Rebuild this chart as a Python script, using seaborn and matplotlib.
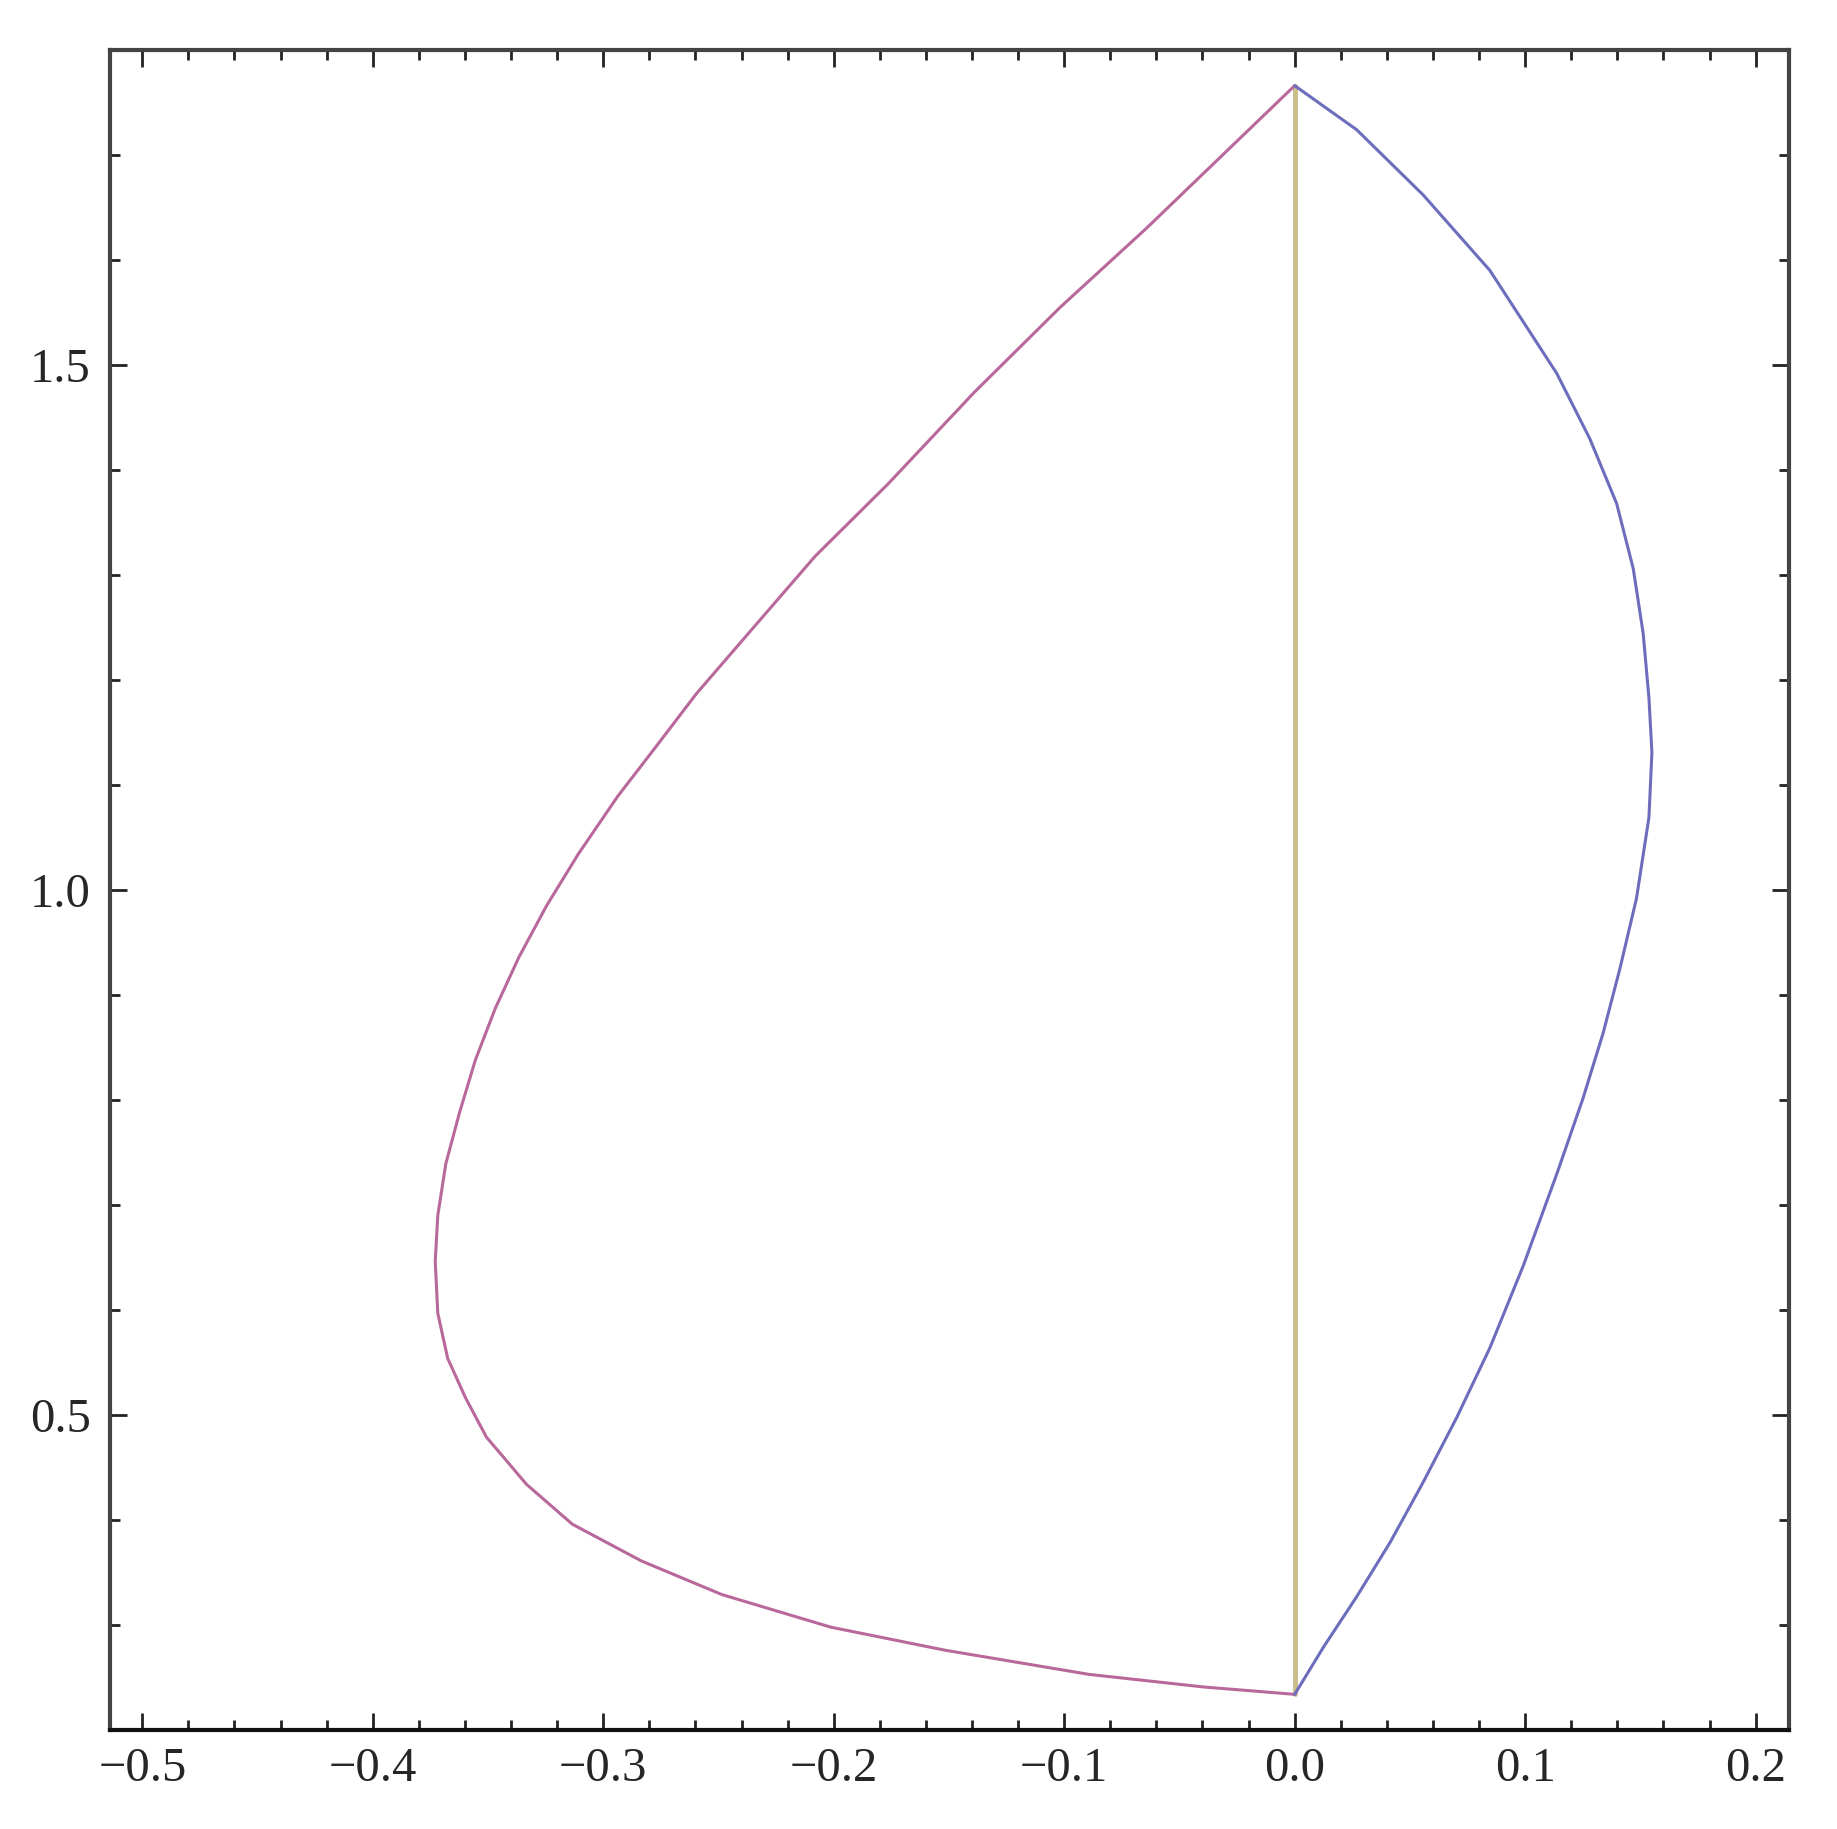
import numpy as np
import pandas as pd
import matplotlib
matplotlib.use("Agg")
import matplotlib.pyplot as plt
from matplotlib.ticker import MultipleLocator
import seaborn as sns

# values
left_x = [0.0, -0.0644, -0.1017, -0.139, -0.1763, -0.208, -0.2337, -0.2595, -0.2766,
          -0.2938, -0.3109, -0.3246, -0.3366, -0.3469, -0.3555, -0.3623, -0.3683,
          -0.3718, -0.3729, -0.3718, -0.3675, -0.3598, -0.3507, -0.3333, -0.3134,
          -0.2834, -0.2485, -0.2013, -0.1516, -0.0892, -0.0394, 0.0]
left_y = [1.766, 1.630, 1.555, 1.474, 1.387, 1.318, 1.2528, 1.1872, 1.138,
          1.089, 1.034, 0.985, 0.936, 0.887, 0.838, 0.7885, 0.7394,
          0.690, 0.6465, 0.597, 0.554, 0.5166, 0.479, 0.434, 0.396,
          0.361, 0.329, 0.298, 0.276, 0.253, 0.241, 0.234]

right_x = [0.0, 0.0269, 0.0557, 0.0847, 0.1137, 0.128, 0.1397, 0.1469, 0.1512, 0.1537,
           0.155, 0.1537, 0.1483, 0.1411, 0.1338, 0.1251, 0.1137, 0.0991, 0.0847,
           0.0703, 0.0557, 0.0414, 0.0269, 0.0125, 0.0]
right_y = [1.766, 1.724, 1.662, 1.590, 1.492, 1.430, 1.368, 1.306, 1.2445, 1.183,
           1.131, 1.069, 0.992, 0.925, 0.8635, 0.8016, 0.7294, 0.6417, 0.564,
           0.4976, 0.4358, 0.3787, 0.327, 0.2790, 0.234]

axis_x = [0.0, 0.0]
axis_y = [0.234, 1.766]

sns.set_theme(style="white")
plt.rcParams['font.family'] = ['Liberation Serif', 'DejaVu Serif']

left = pd.DataFrame({"x": left_x, "y": left_y})
right = pd.DataFrame({"x": right_x, "y": right_y})
mid = pd.DataFrame({"x": axis_x, "y": axis_y})

fig = plt.figure(figsize=(18.37, 18.29), dpi=100)
ax = fig.add_axes([0.0599, 0.0541, 0.9140, 0.9186])

sns.lineplot(data=mid, x="x", y="y", sort=False, estimator=None, ax=ax,
             color="#c9be8c", linewidth=3.6)
sns.lineplot(data=left, x="x", y="y", sort=False, estimator=None, ax=ax,
             color="#b8689a", linewidth=2.2)
sns.lineplot(data=right, x="x", y="y", sort=False, estimator=None, ax=ax,
             color="#6d6dbd", linewidth=2.2)

ax.set_xlim(-0.514, 0.2145)
ax.set_ylim(0.2, 1.8)
ax.set_xlabel("")
ax.set_ylabel("")

ax.xaxis.set_major_locator(MultipleLocator(0.1))
ax.xaxis.set_minor_locator(MultipleLocator(0.02))
ax.yaxis.set_major_locator(MultipleLocator(0.5))
ax.yaxis.set_minor_locator(MultipleLocator(0.1))
ax.xaxis.set_major_formatter(lambda v, p: f"{v:.1f}".replace("-", "\u2212"))
ax.yaxis.set_major_formatter(lambda v, p: f"{v:.1f}")

ax.tick_params(which="both", direction="in", top=True, right=True,
               bottom=True, left=True, color="#222222", width=2.0)
ax.tick_params(which="major", length=12, labelsize=35, pad=12)
ax.tick_params(axis="y", which="major", pad=14)
ax.tick_params(which="minor", length=7)

for s in ax.spines.values():
    s.set_color("#444444")
    s.set_linewidth(3.0)
ax.spines["bottom"].set_color("#111111")

fig.savefig("out.png", dpi=100, facecolor="white")
